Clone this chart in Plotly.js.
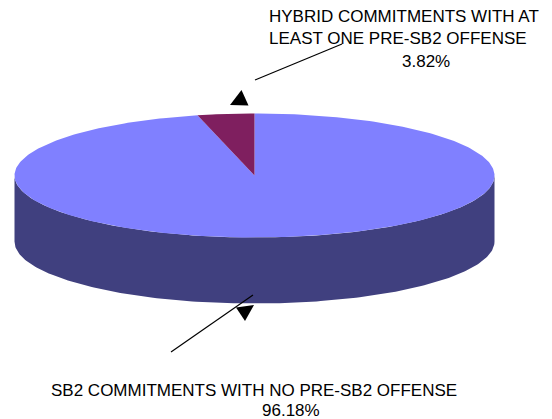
<!DOCTYPE html>
<html>
<head>
<meta charset="utf-8">
<script src="https://cdn.plot.ly/plotly-3.0.1.min.js"></script>
<style>html,body{margin:0;padding:0;background:#fff;overflow:hidden}#c{width:552px;height:419px}</style>
</head>
<body>
<div id="c"></div>
<script>
const categories = ["HYBRID COMMITMENTS WITH AT LEAST ONE PRE-SB2 OFFENSE", "SB2 COMMITMENTS WITH NO PRE-SB2 OFFENSE"];
const shares = [3.82, 96.18];
const shareLabels = ["3.82%", "96.18%"];
const topColors = ["#7F1F5F", "#8080FF"];
const sideColor = "#40407F";

const cx = 254.5, cy = 175.5, rx = 240, ry = 62, depth = 66;
const total = shares.reduce((a, b) => a + b, 0);
function rim(a) { return [cx + rx * Math.sin(a), cy - ry * Math.cos(a)]; }
function wedge(from, to) {
  const xs = [cx], ys = [cy], n = Math.max(8, Math.ceil(Math.abs(to - from) * 60));
  for (let i = 0; i <= n; i++) {
    const p = rim(from + (to - from) * i / n);
    xs.push(p[0]); ys.push(p[1]);
  }
  xs.push(cx); ys.push(cy);
  return {xs, ys};
}
function poly(xs, ys, color, name) {
  return {type: "scatter", mode: "lines", x: xs, y: ys, fill: "toself", fillcolor: color,
    line: {width: 0, color: color}, hoverinfo: "skip", name: name, showlegend: false};
}
function seg(xs, ys) {
  return {type: "scatter", mode: "lines", x: xs, y: ys, line: {width: 1.2, color: "#000"},
    hoverinfo: "skip", showlegend: false};
}

// side wall: front half of the rim, extruded downward
const sx = [], sy = [];
for (let i = 0; i <= 180; i++) { const p = rim(Math.PI / 2 + Math.PI * i / 180); sx.push(p[0]); sy.push(p[1]); }
for (let i = 180; i >= 0; i--) { const p = rim(Math.PI / 2 + Math.PI * i / 180); sx.push(p[0]); sy.push(p[1] + depth); }

const sliceAngle = 2 * Math.PI * shares[0] / total;
const small = wedge(0, -sliceAngle);
const large = wedge(0, 2 * Math.PI - sliceAngle);

const traces = [
  poly(sx, sy, sideColor, "side"),
  poly(large.xs, large.ys, topColors[1], categories[1]),
  poly(small.xs, small.ys, topColors[0], categories[0]),
  seg([255, 342], [80, 44]),
  poly([230, 248.5, 241.5, 230], [105, 105.5, 90, 105], "#000", "pointer"),
  seg([171, 253], [352, 295]),
  poly([236, 254, 245, 236], [307.5, 305, 321, 307.5], "#000", "pointer")
];

const font = {family: "Liberation Sans, Arial, sans-serif", size: 17, color: "#000"};
function note(text, x, y, anchor) {
  return {text, x, y, xref: "x", yref: "y", xanchor: anchor, yanchor: "middle", showarrow: false, font, borderpad: 0};
}
const annotations = [
  note("HYBRID COMMITMENTS WITH AT", 268, 16, "left"),
  note("LEAST ONE PRE-SB2 OFFENSE", 268, 38, "left"),
  note(shareLabels[0], 426, 61, "center"),
  note(categories[1], 253.5, 390, "center"),
  note(shareLabels[1], 291, 410, "center")
];

const hidden = {visible: false, fixedrange: true};
Plotly.newPlot("c", traces, {
  width: 552, height: 419, margin: {l: 0, r: 0, t: 0, b: 0},
  paper_bgcolor: "#fff", plot_bgcolor: "#fff", showlegend: false,
  xaxis: Object.assign({range: [0, 552]}, hidden),
  yaxis: Object.assign({range: [419, 0]}, hidden),
  annotations
}, {displayModeBar: false, staticPlot: true});
</script>
</body>
</html>
